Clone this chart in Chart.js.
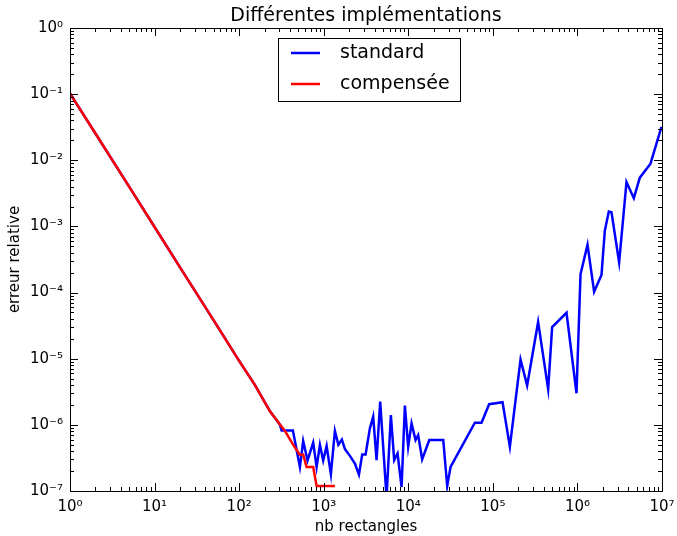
<!DOCTYPE html>
<html>
<head>
<meta charset="utf-8">
<script src="https://cdn.jsdelivr.net/npm/chart.js@4/dist/chart.umd.min.js"></script>
<style>
  html, body { margin: 0; padding: 0; background: #fff; }
  #wrap { width: 677px; height: 536px; }
</style>
</head>
<body>
<div id="wrap"><canvas id="chart" width="677" height="536"></canvas></div>
<script>
// Données : nb de rectangles et erreur relative
const nStandard = [1, 2, 5, 10, 20, 50, 100, 154, 231, 304, 318, 432,
  523, 572, 644, 751, 824, 902, 986, 1082, 1216, 1356, 1490, 1640, 1782,
  2042, 2339, 2609, 2853, 3128, 3515, 3846, 4217, 4653, 5535, 6224, 6810,
  7466, 8333, 9114, 9972, 10930, 12190, 13090, 14590, 17700, 25900, 28860,
  31620, 61240, 73460, 90340, 130200, 158900, 212500, 254300, 342900,
  450700, 502300, 743000, 975000, 1088000, 1316000, 1575000, 1926000,
  2108000, 2350000, 2529000, 3112000, 3803000, 4643000, 5470000, 7310000,
  9860000];
const errStandard = [0.103, 0.0254, 4.0e-3, 9.8e-4, 2.4e-4, 3.8e-5, 9.3e-6,
  4.0e-6, 1.62e-6, 1.0e-6, 8.2e-7, 8.2e-7,
  2.3e-7, 5.7e-7, 2.9e-7, 5.4e-7, 2.3e-7, 5.0e-7, 2.9e-7, 4.8e-7, 1.8e-7,
  8.1e-7, 5.0e-7, 6.0e-7, 4.3e-7, 3.4e-7, 2.6e-7, 1.77e-7, 3.56e-7, 3.56e-7,
  8.85e-7, 1.33e-6, 2.93e-7, 2.25e-6, 8.0e-8, 1.41e-6, 2.93e-7, 3.69e-7,
  1.15e-7, 1.96e-6, 4.67e-7, 1.05e-6, 5.9e-7, 7.0e-7, 3.0e-7, 5.9e-7, 5.9e-7,
  1.19e-7, 2.32e-7, 1.08e-6, 1.08e-6, 2.05e-6, 2.2e-6, 4.67e-7, 9.7e-6,
  3.94e-6, 3.6e-5, 3.46e-6, 3.0e-5, 4.95e-5, 3.0e-6, 1.9e-4, 5.3e-4, 1.03e-4,
  1.85e-4, 8.6e-4, 1.68e-3, 1.64e-3, 2.85e-4, 4.68e-3, 2.67e-3, 5.46e-3,
  8.9e-3, 3.2e-2];

const nCompensee = [1, 2, 5, 10, 20, 50, 100, 154, 231, 348, 436, 523, 572,
  627, 751, 824, 1356];
const errCompensee = [0.103, 0.0254, 4.0e-3, 9.8e-4, 2.4e-4, 3.8e-5, 9.3e-6,
  4.0e-6, 1.6e-6, 8.1e-7, 5.0e-7, 3.5e-7, 3.55e-7, 2.3e-7, 2.3e-7, 1.19e-7,
  1.19e-7];

const xDecades = [1, 10, 100, 1e3, 1e4, 1e5, 1e6, 1e7];
const yDecades = [1e-7, 1e-6, 1e-5, 1e-4, 1e-3, 1e-2, 1e-1, 1];

const titre = 'Différentes implémentations';
const labelX = 'nb rectangles';
const labelY = 'erreur relative';

const SUP = { '0': '⁰', '1': '¹', '2': '²', '3': '³', '4': '⁴', '5': '⁵',
  '6': '⁶', '7': '⁷', '8': '⁸', '9': '⁹', '-': '⁻' };
function puissance(v) {
  const e = String(Math.round(Math.log10(v)));
  return '10' + e.split('').map(c => SUP[c]).join('');
}

const FONT = 'DejaVu Sans';

// Cadre, graduations intérieures, titre et légende façon matplotlib
const decorPlugin = {
  id: 'decor',
  afterDatasetsDraw(chart) {
    const { ctx, chartArea: a, scales } = chart;
    ctx.save();
    ctx.strokeStyle = '#000';
    ctx.lineWidth = 1;

    ctx.beginPath();
    // graduations x
    for (let d = 0; d < 7; d++) {
      for (let m = 1; m <= 9; m++) {
        const px = Math.round(scales.x.getPixelForValue(m * Math.pow(10, d))) + 0.5;
        const len = m === 1 ? 8 : 4;
        ctx.moveTo(px, a.bottom); ctx.lineTo(px, a.bottom - len);
        ctx.moveTo(px, a.top); ctx.lineTo(px, a.top + len);
      }
    }
    // graduations y
    for (let d = -7; d < 0; d++) {
      for (let m = 1; m <= 9; m++) {
        const py = Math.round(scales.y.getPixelForValue(m * Math.pow(10, d))) + 0.5;
        const len = m === 1 ? 8 : 4;
        ctx.moveTo(a.left, py); ctx.lineTo(a.left + len, py);
        ctx.moveTo(a.right, py); ctx.lineTo(a.right - len, py);
      }
    }
    ctx.stroke();

    ctx.strokeRect(Math.round(a.left) + 0.5, Math.round(a.top) + 0.5,
      Math.round(a.right - a.left), Math.round(a.bottom - a.top));

    // titre centré sur la zone de tracé
    ctx.fillStyle = '#000';
    ctx.font = '19px "' + FONT + '"';
    ctx.textAlign = 'center';
    ctx.textBaseline = 'middle';
    ctx.fillText(titre, (a.left + a.right) / 2, 16);

    // légende
    const bx = 278.5, by = 38.5, bw = 182, bh = 63;
    ctx.fillStyle = '#fff';
    ctx.fillRect(bx, by, bw, bh);
    ctx.strokeRect(bx, by, bw, bh);
    ctx.font = '19px "' + FONT + '"';
    ctx.textAlign = 'left';
    chart.data.datasets.forEach((ds, i) => {
      const y = 53 + i * 31;
      ctx.strokeStyle = ds.borderColor;
      ctx.lineWidth = 2.5;
      ctx.beginPath();
      ctx.moveTo(291, y); ctx.lineTo(320, y);
      ctx.stroke();
      ctx.fillStyle = '#000';
      ctx.fillText(ds.label, 340, y);
    });
    ctx.restore();
  }
};

new Chart(document.getElementById('chart'), {
  type: 'line',
  data: {
    datasets: [
      {
        label: 'standard',
        data: nStandard.map((n, i) => ({ x: n, y: errStandard[i] })),
        borderColor: '#0000ff',
        borderWidth: 2.5,
        pointRadius: 0,
        tension: 0,
        order: 1
      },
      {
        label: 'compensée',
        data: nCompensee.map((n, i) => ({ x: n, y: errCompensee[i] })),
        borderColor: '#ff0000',
        borderWidth: 2.5,
        pointRadius: 0,
        tension: 0,
        order: 0
      }
    ]
  },
  options: {
    responsive: false,
    animation: false,
    events: [],
    layout: { padding: { top: 28, right: 15, left: 0, bottom: 0 } },
    plugins: {
      legend: { display: false },
      title: { display: false },
      tooltip: { enabled: false }
    },
    scales: {
      x: {
        type: 'logarithmic',
        min: 1,
        max: 1e7,
        afterBuildTicks: s => { s.ticks = xDecades.map(v => ({ value: v, major: true })); },
        afterFit: s => { s.height = 45; s.paddingLeft = 0; s.paddingRight = 0; },
        grid: { display: false, drawTicks: false },
        border: { display: false },
        ticks: {
          autoSkip: false,
          maxRotation: 0,
          padding: 7,
          color: '#000',
          font: { family: FONT, size: 15 },
          callback: v => puissance(v)
        },
        title: {
          display: true,
          text: labelX,
          color: '#000',
          font: { family: FONT, size: 15 },
          padding: { top: 2, bottom: 0 }
        }
      },
      y: {
        type: 'logarithmic',
        min: 1e-7,
        max: 1,
        afterBuildTicks: s => { s.ticks = yDecades.map(v => ({ value: v, major: true })); },
        afterFit: s => { s.width = 70; s.paddingTop = 0; s.paddingBottom = 0; },
        grid: { display: false, drawTicks: false },
        border: { display: false },
        ticks: {
          autoSkip: false,
          padding: 7,
          color: '#000',
          font: { family: FONT, size: 15 },
          callback: v => puissance(v)
        },
        title: {
          display: true,
          text: labelY,
          color: '#000',
          font: { family: FONT, size: 15 },
          padding: { top: 6, bottom: 2 }
        }
      }
    }
  },
  plugins: [decorPlugin]
});
</script>
</body>
</html>
